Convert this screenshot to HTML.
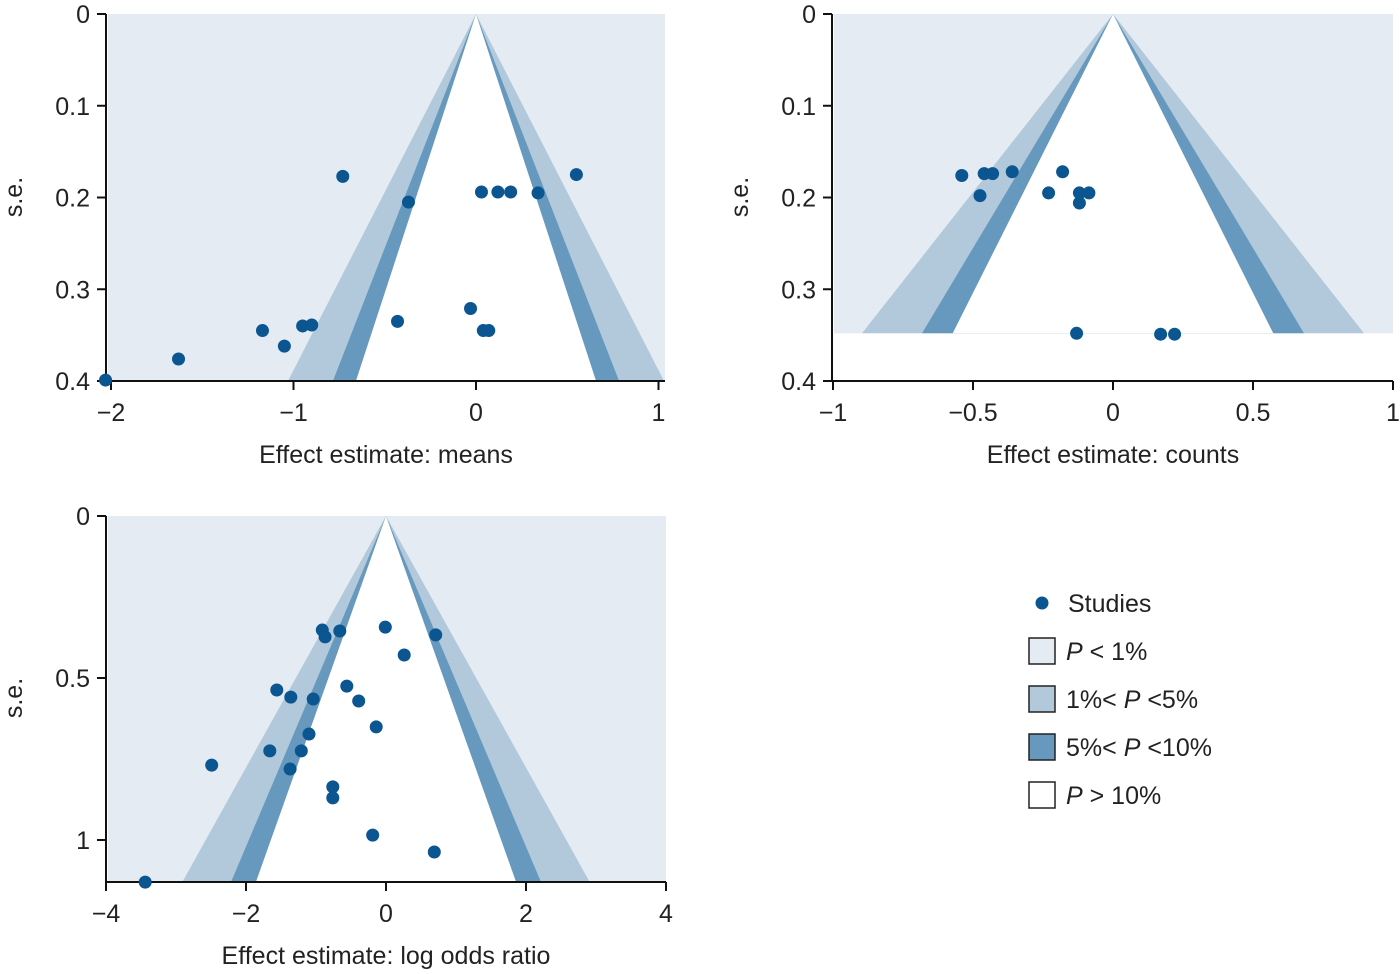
<!DOCTYPE html>
<html><head><meta charset="utf-8"><style>
html,body{margin:0;padding:0;background:#fff;}
svg{display:block;font-family:"Liberation Sans","DejaVu Sans",sans-serif;}
</style></head><body>
<svg id="chart" width="1400" height="974" viewBox="0 0 1400 974" xmlns="http://www.w3.org/2000/svg">
<g id="p1"></g>
<g id="p2"></g>
<g id="p3"></g>
<g font-size="25" fill="#222">
  <circle cx="1042" cy="603" r="6.5" fill="#0b5590"/>
  <text x="1068" y="612">Studies</text>
  <rect x="1029" y="638" width="26" height="26" fill="#e4ebf2" stroke="#222" stroke-width="1.5"/>
  <text x="1066" y="660"><tspan font-style="italic">P</tspan> &lt; 1%</text>
  <rect x="1029" y="686" width="26" height="26" fill="#b1c9db" stroke="#222" stroke-width="1.5"/>
  <text x="1066" y="708">1%&lt; <tspan font-style="italic">P</tspan> &lt;5%</text>
  <rect x="1029" y="734" width="26" height="26" fill="#6699bd" stroke="#222" stroke-width="1.5"/>
  <text x="1066" y="756">5%&lt; <tspan font-style="italic">P</tspan> &lt;10%</text>
  <rect x="1029" y="782" width="26" height="26" fill="#fff" stroke="#222" stroke-width="1.5"/>
  <text x="1066" y="804"><tspan font-style="italic">P</tspan> &gt; 10%</text>
</g>
</svg>
<script>
const meansEffect=[-0.73,-0.37,0.03,0.12,0.19,0.34,0.55,-0.03,-0.43,0.04,0.07,-1.17,-0.95,-0.90,-1.05,-1.63,-2.03];
const meansSE=[0.177,0.205,0.194,0.194,0.194,0.195,0.175,0.321,0.335,0.345,0.345,0.345,0.340,0.339,0.362,0.376,0.399];
const countsEffect=[-0.54,-0.46,-0.43,-0.36,-0.475,-0.18,-0.23,-0.12,-0.086,-0.12,-0.13,0.17,0.22];
const countsSE=[0.176,0.174,0.174,0.172,0.198,0.172,0.195,0.195,0.195,0.206,0.348,0.349,0.349];
const lorEffect=[-0.91,-0.87,-0.66,-0.01,0.71,0.26,-1.56,-1.36,-1.04,-0.56,-0.39,-0.14,-1.1,-1.66,-1.21,-2.49,-1.37,-0.76,-0.76,-0.19,0.69,-3.44];
const lorSE=[0.352,0.373,0.355,0.343,0.367,0.429,0.537,0.559,0.565,0.525,0.571,0.651,0.673,0.725,0.725,0.769,0.781,0.836,0.870,0.985,1.037,1.13];
const meansXTicks=[-2,-1,0,1];
const meansYTicks=[0,0.1,0.2,0.3,0.4];
const countsXTicks=[-1,-0.5,0,0.5,1];
const countsYTicks=[0,0.1,0.2,0.3,0.4];
const lorXTicks=[-4,-2,0,2,4];
const lorYTicks=[0,0.5,1];
const contourZ=[2.576,1.96,1.645];

const NS='http://www.w3.org/2000/svg';
function mk(parent,tag,attrs){const e=document.createElementNS(NS,tag);for(const k in attrs)e.setAttribute(k,attrs[k]);parent.appendChild(e);return e;}
function fmt(v){return v<0?'\u2212'+String(-v):String(v);}

function panel(g,cfg,xs,ses,xt,yt){
  const X=v=>cfg.x0+v*cfg.kx, Y=v=>cfg.y0+v*cfg.ky;
  const top=cfg.y0, bot=Y(cfg.seMax);
  const bg=mk(g,'rect',{x:cfg.left+2,y:top,width:cfg.right-cfg.left-2,height:bot-top,fill:'#e4ebf2'});
  
  
  const fills=['#b1c9db','#6699bd','#ffffff'];
  const names=['p-1-5-region','p-5-10-region','p-gt-10-region'];
  contourZ.forEach((z,i)=>{
    const w=z*cfg.seMax;
    const p=mk(g,'polygon',{points:`${X(0)},${top} ${X(w)},${bot} ${X(-w)},${bot}`,fill:fills[i]});
    
    
  });
  const ax=mk(g,'path',{d:`M${cfg.left},${top} V${cfg.axisY} H${cfg.right}`,stroke:'#111','stroke-width':2,fill:'none'});
  
  
  xt.forEach(v=>{
    const t=mk(g,'line',{x1:X(v),x2:X(v),y1:cfg.axisY,y2:cfg.axisY+9,stroke:'#111','stroke-width':2});
    
    
    const l=mk(g,'text',{x:X(v),y:cfg.axisY+40,'text-anchor':'middle','font-size':25,fill:'#222'});
    
    
    l.textContent=fmt(v);
  });
  yt.forEach(v=>{
    const t=mk(g,'line',{x1:cfg.left-9,x2:cfg.left,y1:Y(v),y2:Y(v),stroke:'#111','stroke-width':2});
    
    
    const l=mk(g,'text',{x:cfg.left-16,y:Y(v)+9,'text-anchor':'end','font-size':25,fill:'#222'});
    
    
    l.textContent=fmt(v);
  });
  xs.forEach((v,i)=>{
    const c=mk(g,'circle',{cx:X(v),cy:Y(ses[i]),r:6.5,fill:'#0b5590'});
    
    
  });
  const xl=mk(g,'text',{x:cfg.xLabelX,y:cfg.axisY+82,'text-anchor':'middle','font-size':25,fill:'#222'});
  
  
  xl.textContent=cfg.xLabel;
  const yl=mk(g,'text',{x:0,y:0,'text-anchor':'middle','font-size':25,fill:'#222',transform:`translate(${cfg.left-84},${cfg.yLabelY}) rotate(-90)`});
  
  
  yl.textContent='s.e.';
}
panel(document.getElementById('p1'),{x0:476,kx:182.5,y0:14,ky:917.5,seMax:0.4,left:106,right:665,axisY:381,xLabel:'Effect estimate: means',xLabelX:386,yLabelY:197},meansEffect,meansSE,meansXTicks,meansYTicks);
panel(document.getElementById('p2'),{x0:1113,kx:280,y0:14,ky:917.5,seMax:0.348,left:832,right:1393,axisY:381,xLabel:'Effect estimate: counts',xLabelX:1113,yLabelY:197},countsEffect,countsSE,countsXTicks,countsYTicks);
panel(document.getElementById('p3'),{x0:386,kx:70,y0:516,ky:324,seMax:1.13,left:106,right:666,axisY:882,xLabel:'Effect estimate: log odds ratio',xLabelX:386,yLabelY:698},lorEffect,lorSE,lorXTicks,lorYTicks);
</script>
</body></html>
